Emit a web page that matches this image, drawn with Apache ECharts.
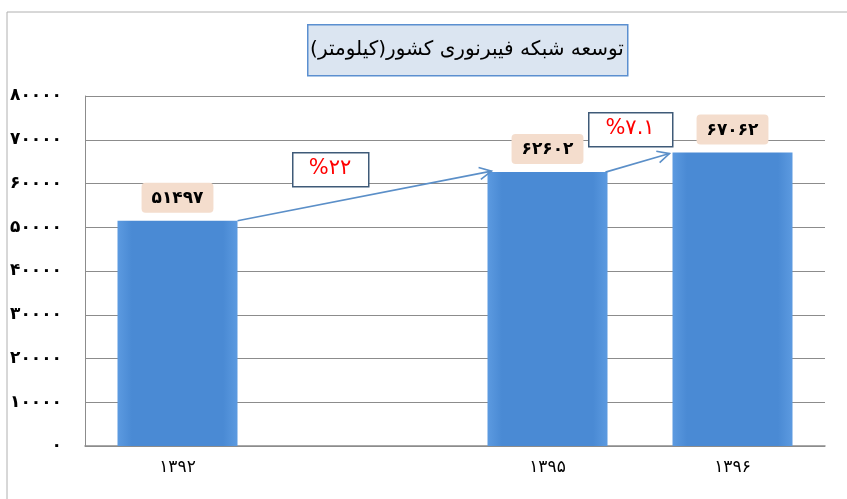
<!DOCTYPE html>
<html>
<head>
<meta charset="utf-8">
<script src="https://cdn.jsdelivr.net/npm/echarts@6/dist/echarts.min.js"></script>
<style>
html,body{margin:0;padding:0;background:#fff;}
#chart{width:847px;height:499px;}
</style>
</head>
<body>
<div id="chart"></div>
<script>
// ---- data ----
var categories = ['۱۳۹۲', '', '۱۳۹۵', '۱۳۹۶'];
var values = [51497, null, 62602, 67062];
var yTicks = { min: 0, max: 80000, interval: 10000 };
var growthLabels = ['%۲۲', '%۷.۱'];
var titleText = 'توسعه شبکه فیبرنوری کشور(کیلومتر)';

function fa(n) {
  return String(n).replace(/[0-9]/g, function (d) { return '۰۱۲۳۴۵۶۷۸۹'[+d]; });
}

var FONT = 'DejaVu Sans';
var BAR_W = 120;

var chart = echarts.init(document.getElementById('chart'), null, { renderer: 'canvas' });

var option = {
  backgroundColor: '#ffffff',
  animation: false,
  grid: { left: 85, right: 22, top: 96, bottom: 53 },
  xAxis: {
    type: 'category',
    data: categories,
    axisTick: { show: false },
    axisLine: { lineStyle: { color: '#8c8c8c', width: 1.5 } },
    axisLabel: { color: '#000', fontFamily: FONT, fontSize: 17, margin: 13 }
  },
  yAxis: {
    type: 'value',
    min: yTicks.min, max: yTicks.max, interval: yTicks.interval,
    axisLine: { show: true, lineStyle: { color: '#8c8c8c', width: 1 } },
    axisTick: { show: false },
    splitLine: { lineStyle: { color: '#8c8c8c', width: 1 } },
    axisLabel: {
      color: '#000', fontFamily: FONT, fontSize: 17, fontWeight: 'bold', margin: 23,
      formatter: function (v) { return fa(v); }
    }
  },
  series: [{
    type: 'bar',
    data: values,
    barWidth: BAR_W,
    itemStyle: {
      color: new echarts.graphic.LinearGradient(0, 0, 1, 0, [
        { offset: 0, color: '#5c9ae0' },
        { offset: 0.12, color: '#4a8ad4' },
        { offset: 0.88, color: '#4a8ad4' },
        { offset: 1, color: '#5c9ae0' }
      ])
    },
    label: {
      show: true,
      position: 'top',
      distance: 8,
      formatter: function (p) { return fa(p.value); },
      color: '#000',
      fontFamily: FONT,
      fontSize: 17,
      fontWeight: 'bold',
      backgroundColor: '#f4ddcd',
      borderRadius: 4,
      padding: [7, 10, 6, 10]
    }
  }],
  graphic: []
};
chart.setOption(option);

// ---- annotations computed from the library's scales ----
function topLeft(i) {
  var p = chart.convertToPixel({ seriesIndex: 0 }, [i, values[i]]);
  return [p[0] - BAR_W / 2, p[1]];
}
function topRight(i) {
  var p = chart.convertToPixel({ seriesIndex: 0 }, [i, values[i]]);
  return [p[0] + BAR_W / 2, p[1]];
}
function arrow(a, b) {
  var dx = b[0] - a[0], dy = b[1] - a[1];
  var len = Math.sqrt(dx * dx + dy * dy);
  var ux = dx / len, uy = dy / len;
  var h = 12, w = 6;
  var bx = b[0] - ux * h, by = b[1] - uy * h;
  var p1 = [bx - uy * w, by + ux * w];
  var p2 = [bx + uy * w, by - ux * w];
  return [
    { type: 'line', shape: { x1: a[0], y1: a[1], x2: b[0], y2: b[1] }, style: { stroke: '#5b8fc8', lineWidth: 1.6 }, z: 10 },
    { type: 'polyline', shape: { points: [p1, b, p2] }, style: { stroke: '#5b8fc8', lineWidth: 1.6, fill: null }, z: 10 }
  ];
}
var a1s = topRight(0), a1e = topLeft(2);
var a2s = topRight(2), a2e = topLeft(3);
var g = [];
// outer frame
g.push({ type: 'polyline', shape: { points: [[7, 499], [7, 12], [847, 12]] }, style: { stroke: '#b0b0b0', lineWidth: 1, fill: null }, z: 0 });
// title box
g.push({ type: 'rect', left: 307, top: 24, shape: { width: 320, height: 51 }, style: { fill: '#dbe5f1', stroke: '#5b8fd0', lineWidth: 1.5 }, z: 5 });
g.push({ type: 'text', x: 467, y: 49.5, style: { text: titleText, font: '20px "' + FONT + '"', fill: '#000', align: 'center', verticalAlign: 'middle' }, z: 6 });
// arrows
g = g.concat(arrow(a1s, [a1e[0] + 4, a1e[1] - 1]));
g = g.concat(arrow([a2s[0] - 2, a2s[1]], [a2e[0] - 3, a2e[1] + 1]));
// growth boxes
g.push({ type: 'rect', left: 292, top: 152, shape: { width: 76, height: 34 }, style: { fill: '#fff', stroke: '#3f5a78', lineWidth: 1.5 }, z: 11 });
g.push({ type: 'text', x: 330, y: 169, style: { text: growthLabels[0], font: '21px "' + FONT + '"', fill: '#ff0000', align: 'center', verticalAlign: 'middle' }, z: 12 });
g.push({ type: 'rect', left: 588, top: 112, shape: { width: 84, height: 34 }, style: { fill: '#fff', stroke: '#3f5a78', lineWidth: 1.5 }, z: 11 });
g.push({ type: 'text', x: 630, y: 129, style: { text: growthLabels[1], font: '21px "' + FONT + '"', fill: '#ff0000', align: 'center', verticalAlign: 'middle' }, z: 12 });
chart.setOption({ graphic: g });
</script>
</body>
</html>
